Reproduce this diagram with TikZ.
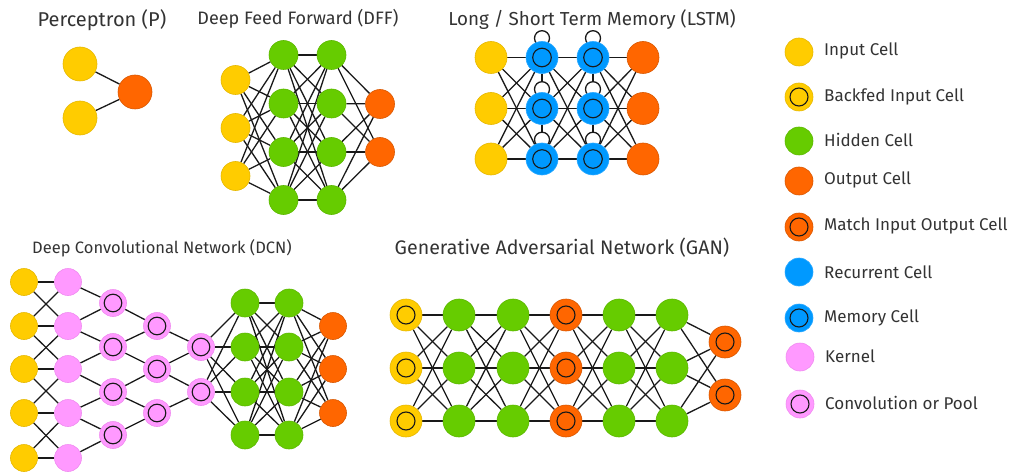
\documentclass[tikz,border=0pt]{standalone}
\usepackage{fontspec}
\setmainfont{Fira Sans}
\usetikzlibrary{backgrounds,calc}
\definecolor{cyel}{HTML}{FFCC00}
\definecolor{cyeld}{HTML}{E6B800}
\definecolor{cgrn}{HTML}{66CC00}
\definecolor{cgrnd}{HTML}{5CB800}
\definecolor{corg}{HTML}{FF6600}
\definecolor{corgd}{HTML}{D95700}
\definecolor{cblu}{HTML}{0099FF}
\definecolor{cblud}{HTML}{2AA8FF}
\definecolor{cpnk}{HTML}{FF99FF}
\definecolor{cpnkd}{HTML}{F08CF0}
\definecolor{ctxt}{HTML}{333333}
\tikzset{
  cell/.style={circle, inner sep=0pt, minimum size=#1, line width=0.6pt},
  incell/.style={cell=#1, fill=cyel, draw=cyeld},
  hidcell/.style={cell=#1, fill=cgrn, draw=cgrnd},
  outcell/.style={cell=#1, fill=corg, draw=corgd},
  reccell/.style={cell=#1, fill=cblu, draw=cblud},
  kercell/.style={cell=#1, fill=cpnk, draw=cpnkd},
  ringed/.style={path picture={\draw[black!90,line width=1.1pt] (path picture bounding box.center) circle[radius=#1];}},
  conn/.style={draw=black!90, line width=1.3pt},
  ttl/.style={text=ctxt, anchor=base, inner sep=0pt},
  lgt/.style={text=ctxt, anchor=west, inner sep=0pt, font=\fontsize{17}{20}\selectfont},
}
\begin{document}
\begin{tikzpicture}[x=1pt,y=-1pt]
\useasboundingbox (0,0) rectangle (1011,473);

% ---------- Titles ----------
\node[ttl, font=\fontsize{20}{24}\selectfont] (tp) at (102,27) {Perceptron (P)};
\node[ttl, font=\fontsize{18}{22}\selectfont] (td) at (298,25) {Deep Feed Forward (DFF)};
\node[ttl, font=\fontsize{18.8}{22}\selectfont] (tl) at (592,25.5) {Long / Short Term Memory (LSTM)};
\node[ttl, font=\fontsize{16.5}{20}\selectfont] (tc) at (162,253) {Deep Convolutional Network (DCN)};
\node[ttl, font=\fontsize{19.6}{23}\selectfont] (tg) at (562,254) {Generative Adversarial Network (GAN)};

% ---------- Perceptron ----------
\node[incell=34] (p1) at (80,64) {};
\node[incell=34] (p2) at (80,118) {};
\node[outcell=34] (po) at (135,92) {};
\begin{scope}[on background layer]
\draw[conn] (p1) -- (po) (p2) -- (po);
\end{scope}

% ---------- DFF ----------
\foreach \i/\y in {1/80,2/128,3/176} \node[incell=29] (di\i) at (235.5,\y) {};
\foreach \i/\y in {1/55,2/103.5,3/152,4/200} {
  \node[hidcell=29] (da\i) at (283.5,\y) {};
  \node[hidcell=29] (db\i) at (331.5,\y) {};
}
\foreach \i/\y in {1/104,2/152} \node[outcell=29] (do\i) at (380,\y) {};
\begin{scope}[on background layer]
\foreach \i in {1,2,3} \foreach \j in {1,...,4} \draw[conn] (di\i) -- (da\j);
\foreach \i in {1,...,4} \foreach \j in {1,...,4} \draw[conn] (da\i) -- (db\j);
\foreach \i in {1,...,4} \foreach \j in {1,2} \draw[conn] (db\i) -- (do\j);
\end{scope}

% ---------- LSTM ----------
\foreach \i/\y in {1/57.5,2/108.5,3/159} {
  \node[incell=32] (li\i) at (491,\y) {};
  \node[reccell=32, ringed=9.3pt] (la\i) at (542,\y) {};
  \node[reccell=32, ringed=9.3pt] (lb\i) at (593,\y) {};
  \node[outcell=32] (lo\i) at (643,\y) {};
}
\begin{scope}[on background layer]
\foreach \i in {1,2,3} \foreach \j in {1,2,3} {
  \draw[conn] (li\i) -- (la\j);
  \draw[conn] (la\i) -- (lb\j);
  \draw[conn] (lb\i) -- (lo\j);
}
\draw[conn] (la1) -- (la2) (la2) -- (la3) (lb1) -- (lb2) (lb2) -- (lb3);
\foreach \i in {1,2,3} {
  \draw[conn, fill=white] ($(la\i.north)+(0,-3)$) circle[radius=7.5pt];
  \draw[conn, fill=white] ($(lb\i.north)+(0,-3)$) circle[radius=7.5pt];
}
\end{scope}

% ---------- DCN ----------
\foreach \i/\y in {1/282,2/326,3/369,4/413,5/458} {
  \node[incell=27] (ci\i) at (24,\y) {};
  \node[kercell=27] (ck\i) at (68,\y) {};
}
\foreach \i/\y in {1/303,2/347,3/392,4/435} {
  \node[kercell=27, ringed=8.8pt] (cp\i) at (113,\y) {};
  \node[hidcell=28] (cg\i) at (245,\y) {};
  \node[hidcell=28] (ch\i) at (289,\y) {};
}
\foreach \i/\y in {1/326,2/369,3/413} {
  \node[kercell=27, ringed=8.8pt] (cq\i) at (157,\y) {};
  \node[outcell=27] (co\i) at (333,\y) {};
}
\foreach \i/\y in {1/347,2/392} \node[kercell=27, ringed=8.8pt] (cr\i) at (201,\y) {};
\begin{scope}[on background layer]
\foreach \i in {1,...,5} \draw[conn] (ci\i) -- (ck\i);
\foreach \i [evaluate=\i as \n using int(\i+1)] in {1,...,4} {
  \draw[conn] (ci\i) -- (ck\n);
  \draw[conn] (ci\n) -- (ck\i);
  \draw[conn] (ck\i) -- (cp\i);
  \draw[conn] (ck\n) -- (cp\i);
}
\foreach \i [evaluate=\i as \n using int(\i+1)] in {1,...,3} {
  \draw[conn] (cp\i) -- (cq\i);
  \draw[conn] (cp\n) -- (cq\i);
}
\foreach \i [evaluate=\i as \n using int(\i+1)] in {1,2} {
  \draw[conn] (cq\i) -- (cr\i);
  \draw[conn] (cq\n) -- (cr\i);
}
\foreach \i in {1,2} \foreach \j in {1,...,4} \draw[conn] (cr\i) -- (cg\j);
\foreach \i in {1,...,4} \foreach \j in {1,...,4} \draw[conn] (cg\i) -- (ch\j);
\foreach \i in {1,...,4} \foreach \j in {1,2,3} \draw[conn] (ch\i) -- (co\j);
\end{scope}

% ---------- GAN ----------
\foreach \i/\y in {1/315,2/368,3/421} {
  \node[incell=32, ringed=9pt] (g1\i) at (406,\y) {};
  \node[hidcell=32] (g2\i) at (459,\y) {};
  \node[hidcell=32] (g3\i) at (513,\y) {};
  \node[outcell=32, ringed=9pt] (g4\i) at (566,\y) {};
  \node[hidcell=32] (g5\i) at (619,\y) {};
  \node[hidcell=32] (g6\i) at (672,\y) {};
}
\foreach \i/\y in {1/342,2/395} \node[outcell=32, ringed=9pt] (g7\i) at (725,\y) {};
\begin{scope}[on background layer]
\foreach \c [evaluate=\c as \d using int(\c+1)] in {1,...,5}
  \foreach \i in {1,2,3} \foreach \j in {1,2,3} \draw[conn] (g\c\i) -- (g\d\j);
\foreach \i in {1,2,3} \foreach \j in {1,2} \draw[conn] (g6\i) -- (g7\j);
\end{scope}

% ---------- Legend ----------
\node[incell=28] (lg1) at (799,52) {};
\node[incell=28, ringed=9pt] (lg2) at (799,97) {};
\node[hidcell=28] (lg3) at (799,141) {};
\node[outcell=28] (lg4) at (799,181) {};
\node[outcell=28, ringed=9pt] (lg5) at (799,227) {};
\node[reccell=28] (lg6) at (799,272) {};
\node[reccell=28, ringed=9pt] (lg7) at (799,318) {};
\node[kercell=28] (lg8) at (800,357) {};
\node[kercell=28, ringed=9pt] (lg9) at (800,404) {};
\node[lgt] (lt1) at (824,51) {Input Cell};
\node[lgt] (lt2) at (824,97) {Backfed Input Cell};
\node[lgt] (lt3) at (824,140) {Hidden Cell};
\node[lgt] (lt4) at (824,180) {Output Cell};
\node[lgt] (lt5) at (824,226) {Match Input Output Cell};
\node[lgt] (lt6) at (824,272) {Recurrent Cell};
\node[lgt] (lt7) at (824,318) {Memory Cell};
\node[lgt] (lt8) at (825,356) {Kernel};
\node[lgt] (lt9) at (825,403) {Convolution or Pool};
\end{tikzpicture}
\end{document}
